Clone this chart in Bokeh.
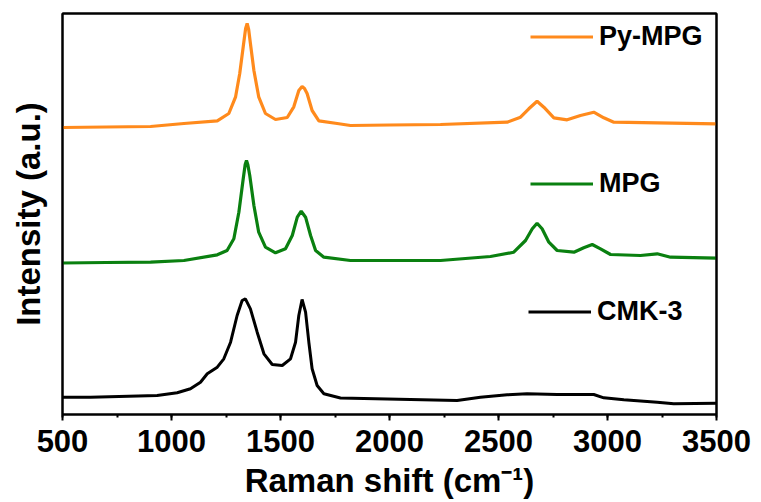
from bokeh.plotting import figure
from bokeh.models import Range1d, SingleIntervalTicker, FixedTicker, Legend, LegendItem, LinearAxis
from bokeh.embed import file_html
from bokeh.resources import INLINE

# Raman spectra (offset, arbitrary units)
pympg_x = [500, 700, 904, 1057, 1210, 1263, 1294, 1313, 1329, 1340, 1347, 1354, 1362, 1378, 1400,
           1431, 1477, 1531, 1561, 1584, 1599, 1610, 1622, 1645, 1676, 1760, 1821, 2000, 2234,
           2540, 2601, 2639, 2677, 2708, 2754, 2815, 2876, 2937, 2983, 3029, 3228, 3500]
pympg_y = [287, 287.5, 288, 291, 293.7, 301, 317.7, 341, 367.7, 386, 391, 385, 371, 344, 317.7,
           301, 295, 297, 307.7, 324, 328, 326, 321, 304, 293.7, 291, 289, 289.5, 290,
           292.3, 297.3, 305.7, 313.3, 307.3, 296.7, 294.7, 299, 302.3, 296.7, 292.3, 291.7, 290.7]

mpg_x = [500, 700, 904, 1057, 1210, 1255, 1286, 1309, 1329, 1338, 1344, 1350, 1359, 1378, 1400,
         1431, 1477, 1523, 1554, 1577, 1595, 1615, 1638, 1661, 1699, 1821, 2000, 2234, 2463,
         2570, 2624, 2655, 2677, 2700, 2731, 2769, 2846, 2891, 2930, 2968, 3014, 3151, 3228,
         3289, 3500]
mpg_y = [151.5, 152, 152.3, 154, 159.7, 164, 175.7, 202.3, 235.7, 250, 254, 250, 239, 209, 182.3,
         167.3, 161.7, 165.7, 179, 197.3, 203.3, 197.3, 179, 164, 157.3, 154, 154, 154, 158,
         162.3, 174, 185.7, 191.3, 185.7, 172.3, 164, 162.3, 166.7, 170, 165.7, 160, 159, 160.7,
         157.3, 156.3]

cmk_x = [500, 628, 934, 1026, 1087, 1133, 1164, 1210, 1240, 1271, 1301, 1324, 1339, 1362, 1393,
         1424, 1462, 1508, 1546, 1569, 1584, 1599, 1615, 1630, 1645, 1668, 1699, 1775, 2310,
         2417, 2540, 2631, 2769, 2937, 2983, 3075, 3228, 3304, 3500]
cmk_y = [17.3, 17.3, 19, 21.7, 25.7, 32.3, 40.7, 47.3, 55.7, 72.3, 99, 114, 115.7, 105.7, 82.3,
         60.7, 50, 49, 55.7, 72.3, 99, 115, 102.3, 72.3, 45.7, 29, 20.7, 16.5, 14,
         17.3, 19.7, 20.7, 20, 20, 16.7, 14.7, 12.3, 10.7, 11.3]

labels = ["Py-MPG", "MPG", "CMK-3"]
colors = ["#FF8A1C", "#0A8010", "#000000"]

FONT = "Liberation Sans"

p = figure(frame_width=654, frame_height=401, output_backend="svg", toolbar_location=None,
           x_range=Range1d(500, 3500), y_range=Range1d(0, 401),
           min_border_left=62, min_border_right=45, min_border_top=13, min_border_bottom=86)
p.xgrid.visible = False
p.ygrid.visible = False
p.outline_line_color = "black"
p.outline_line_width = 2
p.background_fill_color = "white"
p.border_fill_color = "white"

r1 = p.line(pympg_x, pympg_y, line_color=colors[0], line_width=3.2)
r2 = p.line(mpg_x, mpg_y, line_color=colors[1], line_width=3.2)
r3 = p.line(cmk_x, cmk_y, line_color=colors[2], line_width=3)

xa = p.xaxis[0]
xa.ticker = SingleIntervalTicker(interval=500, num_minor_ticks=2)
xa.axis_line_width = 2
xa.axis_line_color = "black"
xa.major_tick_in = 0
xa.major_tick_out = 6
xa.minor_tick_in = 0
xa.minor_tick_out = 3
xa.major_tick_line_width = 2
xa.minor_tick_line_width = 2
xa.major_tick_line_color = "black"
xa.minor_tick_line_color = "black"
xa.major_label_text_font = FONT
xa.major_label_text_font_style = "bold"
xa.major_label_text_font_size = "31px"
xa.major_label_text_color = "black"
xa.major_label_standoff = 9
xa.axis_label = "Raman shift (cm\u207b\u00b9)"
xa.axis_label_text_font = FONT
xa.axis_label_text_font_style = "bold"
xa.axis_label_text_font_size = "33px"
xa.axis_label_text_color = "black"
xa.axis_label_standoff = 7

ya = p.yaxis[0]
ya.ticker = FixedTicker(ticks=[])
ya.axis_line_width = 2
ya.axis_line_color = "black"
ya.major_tick_out = 0
ya.major_tick_in = 0
ya.minor_tick_out = 0
ya.minor_tick_in = 0
ya.axis_label = "Intensity (a.u.)"
ya.axis_label_text_font = FONT
ya.axis_label_text_font_style = "bold"
ya.axis_label_text_font_size = "33px"
ya.axis_label_text_color = "black"
ya.axis_label_standoff = 16

# closing frame lines (top / right)
for side in ["above", "right"]:
    ax = LinearAxis(ticker=FixedTicker(ticks=[]), axis_line_width=2, axis_line_color="black",
                    major_tick_out=0, major_tick_in=0, minor_tick_out=0, minor_tick_in=0,
                    major_label_text_font_size="0px")
    p.add_layout(ax, side)

locs = [(468, 362), (468, 215), (466, 87)]
for lab, r, loc in zip(labels, [r1, r2, r3], locs):
    lg = Legend(items=[LegendItem(label=lab, renderers=[r])], location=loc,
                padding=0, margin=0, spacing=0, border_line_alpha=0,
                background_fill_alpha=0, glyph_width=63, glyph_height=31,
                label_standoff=6, label_text_font=FONT, label_text_font_style="bold",
                label_text_font_size="27px", label_text_color="black")
    p.add_layout(lg)

open("out.html", "w").write(file_html(p, INLINE))
